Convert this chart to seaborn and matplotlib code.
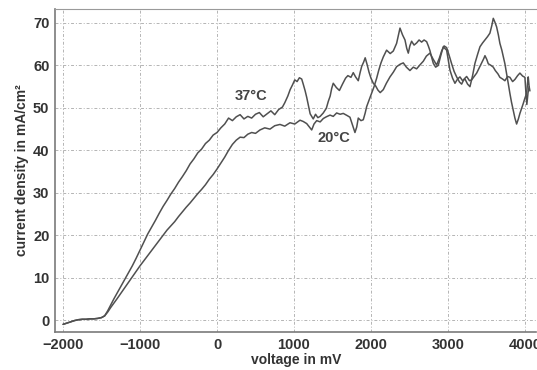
import numpy as np
import pandas as pd
import seaborn as sns
import matplotlib.pyplot as plt

# Curva a 37 graus (tensão em mV, densidade de corrente em mA/cm2)
mv_37 = [-2000, -1950, -1900, -1850, -1800, -1750, -1700, -1650, -1600, -1550, -1500,
         -1460, -1420, -1380, -1340, -1300, -1250, -1200, -1150, -1100, -1050, -1000,
         -950, -900, -850, -800, -750, -700, -650, -600, -550, -500, -450, -400, -350,
         -300, -250, -200, -150, -100, -50, 0, 50, 100, 150, 200, 250, 300, 350, 400,
         450, 500, 550, 600, 650, 700, 750, 800, 850, 880, 920, 950, 980, 1010, 1040,
         1070, 1100, 1120, 1145, 1165, 1190, 1210, 1250, 1280, 1310, 1340, 1380, 1420,
         1445, 1470, 1490, 1510, 1550, 1590, 1630, 1670, 1700, 1740, 1770, 1800, 1835,
         1860, 1880, 1905, 1925, 1950, 1975, 2000, 2030, 2060, 2090, 2120, 2160, 2200,
         2247, 2290, 2333, 2380, 2420, 2460, 2506, 2550, 2593, 2640, 2680, 2720, 2766,
         2810, 2853, 2890, 2918, 2950, 2983, 3015, 3048, 3080, 3113, 3150, 3178, 3210,
         3243, 3280, 3308, 3340, 3373, 3410, 3438, 3465, 3481, 3505, 3524, 3560, 3589,
         3615, 3650, 3675, 3710, 3740, 3775, 3805, 3840, 3870, 3905, 3935, 3970, 4000,
         4015, 4025, 4040, 4055]
j_37 = [-1.0, -0.7, -0.4, -0.1, 0.1, 0.2, 0.2, 0.3, 0.3, 0.4, 0.6,
        1.0, 2.2, 3.6, 5.0, 6.3, 7.9, 9.5, 11.2, 12.8, 14.6, 16.5,
        18.4, 20.3, 21.9, 23.5, 25.2, 26.8, 28.2, 29.7, 31.0, 32.5, 33.8, 35.2, 36.8,
        38.0, 39.4, 40.3, 41.6, 42.4, 43.6, 44.2, 45.3, 46.2, 47.6, 47.0, 47.9, 48.4, 47.4, 48.0,
        47.6, 48.5, 48.9, 47.9, 48.6, 49.3, 48.4, 49.6, 50.2, 51.2, 52.8, 54.3, 55.4, 56.6, 56.2,
        57.1, 56.8, 55.6, 54.0, 52.5, 50.3, 48.6, 47.4, 48.5, 47.7, 48.0, 48.8, 49.9,
        51.5, 52.8, 54.6, 55.8, 54.8, 54.1, 55.6, 57.0, 57.6, 57.2, 58.3, 57.3, 56.4,
        58.4, 59.8, 60.8, 61.8, 60.2, 58.4, 57.0, 55.8, 55.2, 54.2, 53.6, 54.3, 55.8,
        57.3, 58.4, 59.7, 60.3, 60.6, 59.6, 58.8, 59.6, 59.2, 60.2, 61.0, 62.2, 62.9,
        61.4, 60.1, 61.8, 63.4, 64.6, 64.2, 62.4, 60.4, 58.6, 57.3, 56.1, 55.6, 56.8,
        57.4, 56.4, 56.6, 57.4, 58.2, 59.6, 60.6, 61.6, 62.3, 61.4, 60.4, 60.0, 59.6,
        58.8, 58.0, 57.2, 56.8, 56.4, 57.4, 57.2, 56.2, 56.7, 57.6, 58.2, 57.5, 57.2,
        53.0, 50.8, 53.5, 55.0]

# Curva a 20 graus
mv_20 = [-2000, -1950, -1900, -1850, -1800, -1750, -1700, -1650, -1600, -1550, -1500,
         -1460, -1420, -1380, -1340, -1300, -1250, -1200, -1150, -1100, -1050, -1000,
         -950, -900, -850, -800, -750, -700, -650, -600, -550, -500, -450, -400, -350,
         -300, -250, -200, -150, -100, -50, 0, 50, 100, 150, 200, 250, 300, 350, 400,
         450, 500, 558, 620, 688, 750, 818, 880, 948, 1010, 1078, 1120, 1165, 1200, 1230,
         1260, 1295, 1340, 1381, 1420, 1468, 1510, 1554, 1600, 1640, 1690, 1727, 1760,
         1792, 1815, 1835, 1870, 1900, 1925, 1944, 1975, 2009, 2040, 2074, 2100, 2130,
         2160, 2203, 2250, 2290, 2333, 2355, 2377, 2410, 2442, 2465, 2485, 2505, 2528,
         2560, 2593, 2625, 2658, 2690, 2723, 2745, 2766, 2790, 2810, 2840, 2874, 2905,
         2939, 2960, 2983, 3005, 3026, 3060, 3091, 3125, 3156, 3190, 3221, 3255, 3286,
         3320, 3351, 3385, 3416, 3450, 3481, 3515, 3545, 3570, 3589, 3610, 3632, 3655,
         3675, 3700, 3719, 3740, 3762, 3785, 3805, 3825, 3848, 3870, 3892, 3915, 3935,
         3960, 3978, 4000, 4022, 4035, 4043, 4055, 4065]
j_20 = [-1.0, -0.7, -0.4, -0.1, 0.1, 0.2, 0.2, 0.3, 0.3, 0.4, 0.6,
        1.0, 1.9, 3.0, 4.0, 5.0, 6.3, 7.6, 8.9, 10.2, 11.5, 12.8,
        14.0, 15.2, 16.4, 17.6, 18.8, 20.0, 21.2, 22.2, 23.2, 24.4, 25.5, 26.6, 27.6,
        28.7, 29.8, 30.8, 31.9, 33.2, 34.3, 35.6, 37.0, 38.4, 40.0, 41.4, 42.4, 43.1, 43.0, 43.8,
        44.2, 44.0, 44.8, 45.3, 45.0, 45.8, 46.1, 45.7, 46.5, 46.2, 47.1, 46.8, 46.3, 45.5, 44.8,
        46.2, 47.0, 46.7, 47.5, 47.9, 48.3, 48.0, 48.8, 48.5, 48.7, 48.2, 47.8, 46.0,
        44.2, 45.5, 47.6, 47.0, 47.2, 48.8, 50.3, 51.8, 53.4, 55.0, 57.0, 58.8, 60.6,
        62.0, 63.6, 62.8, 63.4, 65.2, 67.0, 68.8, 67.2, 66.0, 64.0, 62.9, 64.6, 65.7,
        64.8, 65.3, 66.0, 65.5, 66.0, 65.6, 64.6, 63.5, 61.8, 60.5, 59.6, 60.0, 62.2,
        64.4, 64.0, 63.6, 61.2, 58.9, 57.0, 55.8, 56.8, 57.3, 56.4, 56.8, 55.6, 55.0,
        57.6, 60.5, 62.6, 64.4, 65.3, 66.0, 66.8, 67.6, 69.4, 71.1, 70.2, 69.1, 67.2,
        65.2, 63.6, 62.1, 60.4, 58.1, 55.6, 53.4, 51.4, 49.5, 47.6, 46.2, 47.4, 48.7,
        50.0, 51.0, 52.3, 53.4, 56.0, 57.3, 55.0, 54.0]

y_ticks = [0, 10, 20, 30, 40, 50, 60, 70]
x_ticks = [-2000, -1000, 0, 1000, 2000, 3000, 4000]

df = pd.concat([
    pd.DataFrame({'mv': mv_37, 'j': j_37, 'temp': '37°C'}),
    pd.DataFrame({'mv': mv_20, 'j': j_20, 'temp': '20°C'}),
])

sns.set_style('white')
plt.rcParams['font.family'] = ['Liberation Sans', 'DejaVu Sans']
plt.rcParams['font.weight'] = 'bold'

fig = plt.figure(figsize=(5.37, 3.70), dpi=100)
ax = fig.add_axes([0.1024, 0.1027, 0.8966, 0.873])

sns.lineplot(data=df, x='mv', y='j', hue='temp', units='temp', estimator=None, sort=False,
             palette=['#505050', '#505050'], linewidth=1.1, legend=False, ax=ax)

ax.set_xlim(-2105, 4150)
ax.set_ylim(-2.8, 73.3)
ax.set_xticks(x_ticks)
ax.set_yticks(y_ticks)

# grade pontilhada, bem clara
ax.grid(True, color='#b4b4b4', linestyle=(0, (3, 2, 1, 2)), linewidth=0.7)
ax.tick_params(length=0, labelsize=10.5, colors='#333333', pad=4)
for lbl in ax.get_xticklabels() + ax.get_yticklabels():
    lbl.set_fontweight('bold')

for s in ['left', 'bottom']:
    ax.spines[s].set_color('#7a7a7a')
    ax.spines[s].set_linewidth(1.2)
ax.spines['right'].set_visible(False)
ax.spines['top'].set_color('#9a9a9a')
ax.spines['top'].set_linestyle((0, (1, 1)))
ax.spines['top'].set_linewidth(0.8)

ax.set_xlabel('voltage in mV', fontsize=10, fontweight='bold', color='#333333', labelpad=1)
ax.set_ylabel('current density in mA/cm²', fontsize=10, fontweight='bold', color='#333333', labelpad=3)

ax.text(442, 52.9, '37°C', fontsize=10.5, fontweight='bold', color='#444444', ha='center', va='center')
ax.text(1519, 43.0, '20°C', fontsize=10.5, fontweight='bold', color='#444444', ha='center', va='center')

plt.savefig('out.png', dpi=100)
plt.close()
